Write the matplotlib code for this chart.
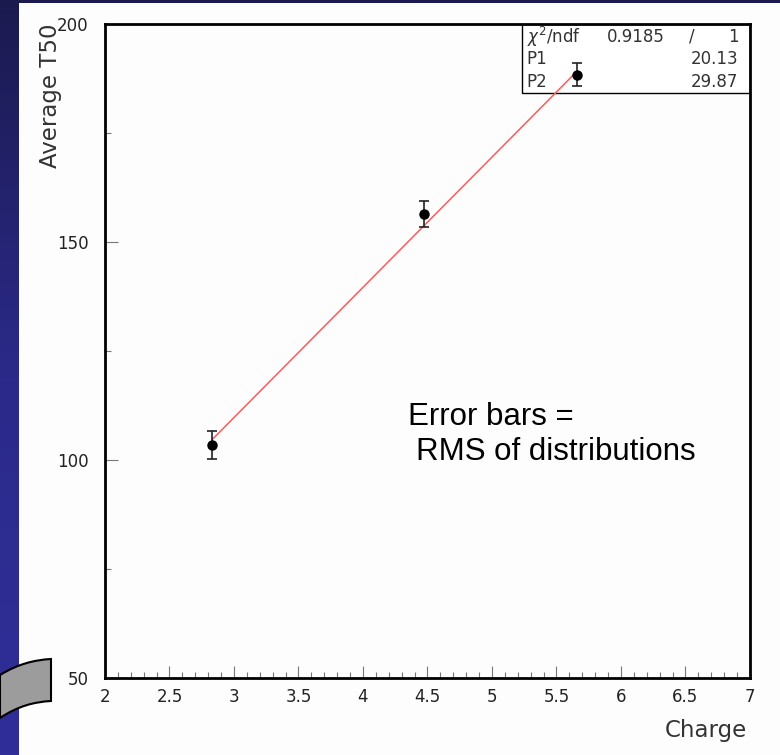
import matplotlib.pyplot as plt
import numpy as np
from matplotlib.patches import Rectangle, PathPatch
from matplotlib.path import Path
from matplotlib.colors import LinearSegmentedColormap

# measured points (charge vs average T50), error = RMS of distributions
charge = [2.83, 4.47, 5.66]
t50 = [103.4, 156.4, 188.4]
t50_rms = [3.2, 3.05, 2.6]

# straight line fit results
fit_chi2 = "0.9185"
fit_ndf = "1"
p1 = 20.13
p2 = 29.87

W, H = 780, 755
fig = plt.figure(figsize=(W / 100, H / 100), dpi=100)

# slide background: blue gradient with white panel
bg = fig.add_axes([0, 0, 1, 1], zorder=-10)
grad = np.linspace(0, 1, 256).reshape(-1, 1)
cmap = LinearSegmentedColormap.from_list("slide", ["#1b1a4f", "#2b2a8a", "#302f9a"])
bg.imshow(grad, aspect="auto", cmap=cmap, extent=[0, W, H, 0])
bg.add_patch(Rectangle((19, 3), W - 19, H - 3, facecolor="#fdfdfd", edgecolor="none"))
# grey curved arrow piece at bottom left
verts = [(0, 675), (18, 664), (34, 660), (51, 659), (51, 701),
         (34, 702), (18, 706), (0, 718), (0, 675)]
codes = [Path.MOVETO, Path.CURVE4, Path.CURVE4, Path.CURVE4, Path.LINETO,
         Path.CURVE4, Path.CURVE4, Path.CURVE4, Path.CLOSEPOLY]
bg.add_patch(PathPatch(Path(verts, codes), facecolor="#9c9c9c", edgecolor="black", lw=1.5))
bg.set_xlim(0, W)
bg.set_ylim(H, 0)
bg.axis("off")

ax = fig.add_axes([105 / W, 1 - 678 / H, 645 / W, 654 / H])
ax.set_facecolor("none")

ax.errorbar(charge, t50, yerr=t50_rms, fmt="o", color="black", ms=6.5,
            ecolor="#222222", elinewidth=1.2, capsize=3.5, capthick=1.2, zorder=3)

xfit = np.array([min(charge), max(charge)])
ax.plot(xfit, p1 + p2 * xfit, color="#ff5a5a", lw=1.1, zorder=2)

ax.set_xlim(2, 7)
ax.set_ylim(50, 200)
ax.set_xticks(np.arange(2, 7.01, 0.5))
ax.set_xticklabels(["2", "2.5", "3", "3.5", "4", "4.5", "5", "5.5", "6", "6.5", "7"])
ax.set_xticks(np.arange(2, 7.01, 0.1), minor=True)
ax.set_yticks([50, 100, 150, 200])
ax.set_yticks([75, 125, 175], minor=True)

ax.tick_params(which="both", direction="in", color="#777777", width=0.8,
               labelsize=12, labelcolor="#222222")
ax.tick_params(which="major", length=9)
ax.tick_params(which="minor", length=4.5)
ax.tick_params(axis="y", pad=12)
ax.tick_params(axis="x", pad=7)
for s in ax.spines.values():
    s.set_linewidth(2)
    s.set_color("black")

ax.set_ylabel("Average T50", fontsize=16.5, color="#333333", loc="top")
ax.yaxis.set_label_coords(-0.066, 1.0)
ax.set_xlabel("Charge", fontsize=16.5, color="#333333", loc="right")
ax.xaxis.set_label_coords(0.996, -0.062)

# fit statistics box
ax.add_patch(Rectangle((0.646, 0.8945), 0.354, 0.1055, transform=ax.transAxes,
                       facecolor="white", edgecolor="black", lw=1, zorder=1))
st = dict(transform=ax.transAxes, fontsize=12, color="#333333", va="center", zorder=4)
ax.text(0.654, 0.9806, r"$\chi^2$/ndf", ha="left", **st)
ax.text(0.868, 0.9806, fit_chi2, ha="right", **st)
ax.text(0.91, 0.9806, "/", ha="center", **st)
ax.text(0.982, 0.9806, fit_ndf, ha="right", **st)
ax.text(0.654, 0.946, "P1", ha="left", **st)
ax.text(0.982, 0.946, f"{p1:.2f}", ha="right", **st)
ax.text(0.654, 0.9118, "P2", ha="left", **st)
ax.text(0.982, 0.9118, f"{p2:.2f}", ha="right", **st)

ax.text(0.47, 0.399, "Error bars =", transform=ax.transAxes, fontsize=22.5,
        family="Liberation Sans", ha="left", va="center")
ax.text(0.482, 0.3456, "RMS of distributions", transform=ax.transAxes, fontsize=22.5,
        family="Liberation Sans", ha="left", va="center")

fig.savefig("out.png", dpi=100)
